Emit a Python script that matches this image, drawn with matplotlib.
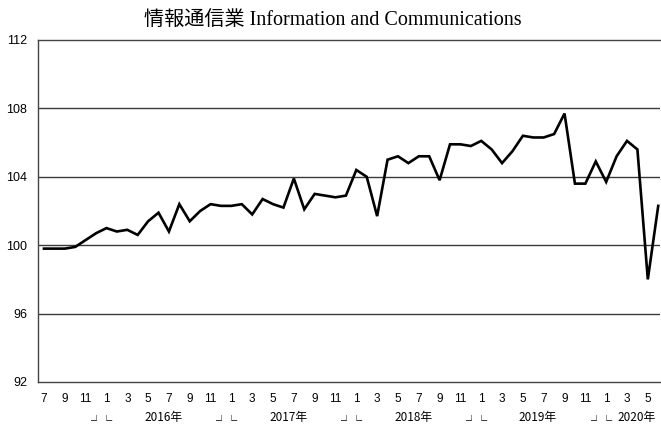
import matplotlib
matplotlib.use("Agg")
import matplotlib.pyplot as plt

# Monthly index, Jul 2015 - Jun 2020
months = [7, 8, 9, 10, 11, 12,
          1, 2, 3, 4, 5, 6, 7, 8, 9, 10, 11, 12,
          1, 2, 3, 4, 5, 6, 7, 8, 9, 10, 11, 12,
          1, 2, 3, 4, 5, 6, 7, 8, 9, 10, 11, 12,
          1, 2, 3, 4, 5, 6, 7, 8, 9, 10, 11, 12,
          1, 2, 3, 4, 5, 6]
values = [99.8, 99.8, 99.8, 99.9, 100.3, 100.7,
          101.0, 100.8, 100.9, 100.6, 101.4, 101.9, 100.8, 102.4, 101.4, 102.0, 102.4, 102.3,
          102.3, 102.4, 101.8, 102.7, 102.4, 102.2, 103.9, 102.1, 103.0, 102.9, 102.8, 102.9,
          104.4, 104.0, 101.7, 105.0, 105.2, 104.8, 105.2, 105.2, 103.8, 105.9, 105.9, 105.8,
          106.1, 105.6, 104.8, 105.5, 106.4, 106.3, 106.3, 106.5, 107.7, 103.6, 103.6, 104.9,
          103.7, 105.2, 106.1, 105.6, 98.0, 102.3]
year_labels = ["2016年", "2017年", "2018年", "2019年", "2020年"]
y_ticks = [92, 96, 100, 104, 108, 112]
title = "情報通信業 Information and Communications"

W, H = 661, 426
fig = plt.figure(figsize=(W / 100, H / 100), dpi=100)
L, R, T, B = 38, 660, 40, 382
ax = fig.add_axes([L / W, 1 - B / H, (R - L) / W, (B - T) / H])

x = list(range(len(values)))
ax.plot(x, values, color="black", lw=1.9, solid_joinstyle="miter")

ax.set_ylim(92, 112)
ax.set_xlim(-0.576, 59.17)
ax.set_yticks(y_ticks)
ax.set_yticklabels([str(v) for v in y_ticks])
for yv in y_ticks[1:-1]:
    ax.axhline(yv, color="#3a3a3a", lw=1.0, zorder=0)

ax.set_xticks(x[::2])
ax.set_xticklabels([str(m) for m in months[::2]])

num_font = ["Liberation Sans Narrow", "Liberation Sans", "DejaVu Sans"]
ax.tick_params(axis="both", length=0)
ax.tick_params(axis="y", pad=8, labelsize=9)
ax.tick_params(axis="x", pad=8, labelsize=8.5)
for lab in ax.get_xticklabels() + ax.get_yticklabels():
    lab.set_family(num_font)

for side in ["left", "bottom", "top"]:
    ax.spines[side].set_color("#444444")
    ax.spines[side].set_linewidth(1.0)
ax.spines["right"].set_visible(False)

# Year labels and bracket marks
jan_idx = [i for i, m in enumerate(months) if m == 1]
tr = ax.get_xaxis_transform()
for k, ji in enumerate(jan_idx):
    ax.text(ji - 0.52, -0.1243, "┘└", transform=tr, ha="center", va="baseline",
            fontsize=8, family=["Noto Sans CJK JP", "DejaVu Sans"])
    pos = ji + 5.45 if k < len(jan_idx) - 1 else ji + 2.95
    ax.text(pos, -0.104, year_labels[k], transform=tr, ha="center", va="center",
            fontsize=8.5, family=["Liberation Sans Narrow", "Noto Sans CJK JP", "DejaVu Sans"])

fig.text(333 / W, 1 - 20 / H, title, ha="center", va="center", fontsize=14.5,
         family=["Liberation Serif", "Noto Sans CJK JP"])

fig.savefig("out.png", dpi=100)
